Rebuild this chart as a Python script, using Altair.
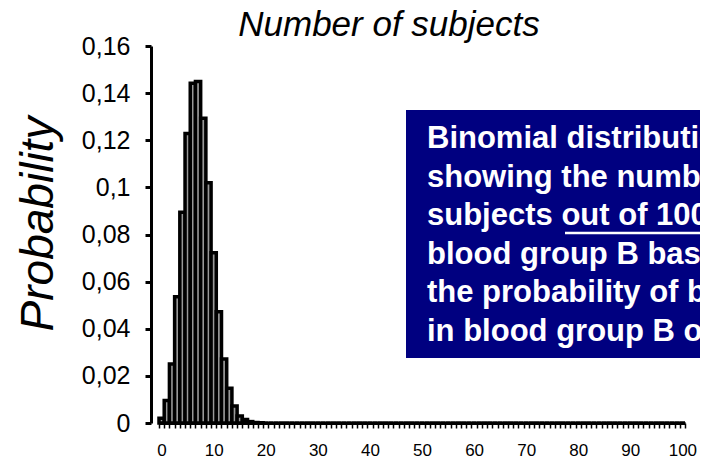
import altair as alt
import pandas as pd

# Number of subjects (category labels 0..100)
subjects = list(range(0, 101))
# Probability (first band first)
probability = [
    0.0020, 0.0095, 0.0250, 0.0536, 0.0894, 0.1229, 0.1442, 0.1449, 0.1293, 0.1020,
    0.0723, 0.0472, 0.0272, 0.0147, 0.0072, 0.0030, 0.0015, 0.0006, 0.0002, 0.0001,
    0, 0, 0, 0, 0, 0, 0, 0, 0, 0,
    0, 0, 0, 0, 0, 0, 0, 0, 0, 0,
    0, 0, 0, 0, 0, 0, 0, 0, 0, 0,
    0, 0, 0, 0, 0, 0, 0, 0, 0, 0,
    0, 0, 0, 0, 0, 0, 0, 0, 0, 0,
    0, 0, 0, 0, 0, 0, 0, 0, 0, 0,
    0, 0, 0, 0, 0, 0, 0, 0, 0, 0,
    0, 0, 0, 0, 0, 0, 0, 0, 0, 0,
    0,
]
y_ticks = [0, 0.02, 0.04, 0.06, 0.08, 0.10, 0.12, 0.14, 0.16]
title_text = "Number of subjects"
y_title = "Probability"
box_lines = [
    "Binomial distribution",
    "showing the number of",
    "subjects out of 100 in",
    "blood group B based on",
    "the probability of being",
    "in blood group B of 0.08",
]

FONT = "Liberation Sans"

df = pd.DataFrame({"k": subjects, "p": probability})
one = pd.DataFrame({"a": [0]})

bars = alt.Chart(df).mark_bar(
    fill="#999999", stroke="black", strokeWidth=3.5
).encode(
    x=alt.X(
        "k:O",
        scale=alt.Scale(paddingInner=0, paddingOuter=0),
        axis=alt.Axis(
            title="",
            labelExpr="datum.value % 10 == 0 ? datum.label : ''",
            labelAngle=0,
            labelFont=FONT,
            labelFontSize=17,
            labelColor="black",
            labelPadding=14,
            tickBand="extent",
            tickSize=5,
            tickWidth=1.5,
            tickColor="black",
            domainWidth=3,
            domainColor="black",
            grid=False,
        ),
    ),
    y=alt.Y(
        "p:Q",
        scale=alt.Scale(domain=[0, 0.16], nice=False),
        axis=alt.Axis(
            title="",
            values=y_ticks,
            format=".2~f",
            labelExpr="replace(datum.label, '.', ',')",
            labelFont=FONT,
            labelFontSize=25,
            labelColor="black",
            labelPadding=15,
            offset=8,
            tickSize=6,
            tickWidth=3,
            tickColor="black",
            domainWidth=3,
            domainColor="black",
            grid=False,
        ),
    ),
)

box = alt.Chart(one).mark_rect(color="#000080").encode(
    x=alt.value(247), x2=alt.value(560), y=alt.value(64), y2=alt.value(312)
)

box_text = alt.Chart(one).mark_text(
    text=box_lines,
    font=FONT,
    fontSize=31,
    fontWeight="bold",
    color="white",
    align="left",
    baseline="alphabetic",
    lineHeight=38.5,
).encode(x=alt.value(268), y=alt.value(102))

underline = alt.Chart(one).mark_rule(color="white", strokeWidth=2.5).encode(
    x=alt.value(406), x2=alt.value(560), y=alt.value(187)
)

title = alt.Chart(one).mark_text(
    text=title_text,
    font=FONT,
    fontSize=35,
    fontStyle="italic",
    color="black",
    align="center",
    baseline="alphabetic",
).encode(x=alt.value(230), y=alt.value(-10))

ytitle = alt.Chart(one).mark_text(
    text=y_title,
    font=FONT,
    fontSize=46,
    fontStyle="italic",
    color="black",
    align="center",
    baseline="alphabetic",
    angle=270,
).encode(x=alt.value(-106), y=alt.value(178))

chart = alt.layer(bars, box, box_text, underline, title, ytitle).properties(
    width=526,
    height=377,
    autosize=alt.AutoSizeParams(type="none"),
    padding={"left": 151, "top": 38, "right": 15, "bottom": 37},
).configure_view(stroke=None)

chart.save("out.html", embed_options={"renderer": "svg", "actions": False})
